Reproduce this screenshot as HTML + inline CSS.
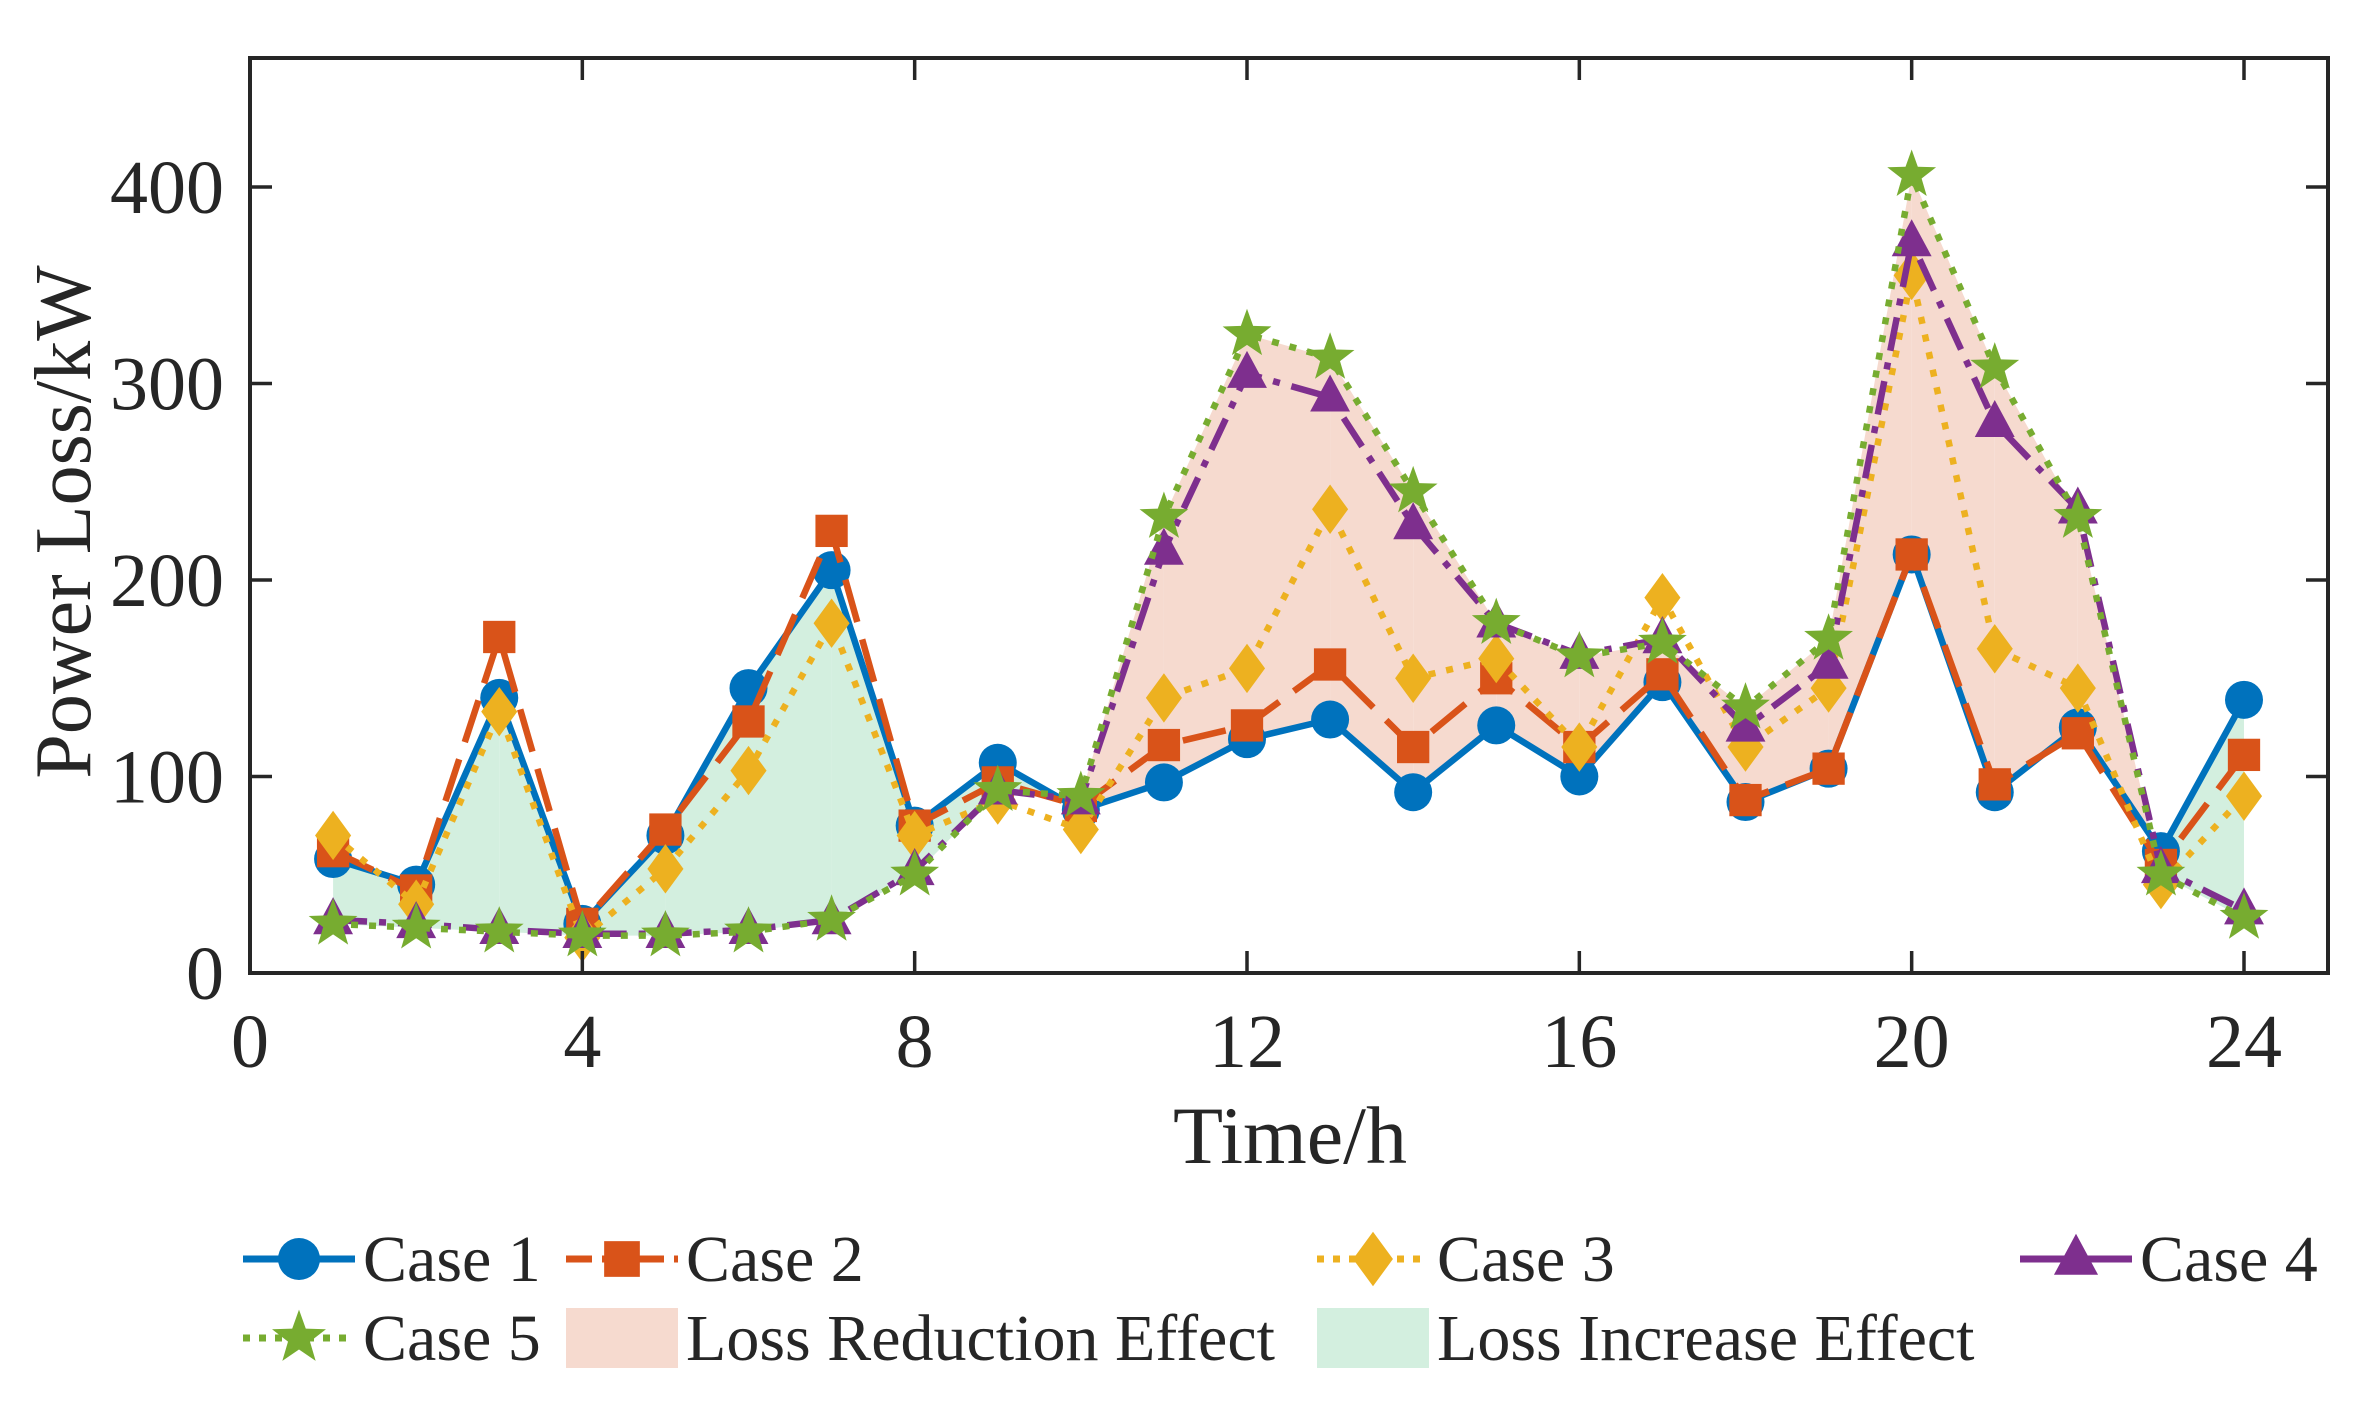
<!DOCTYPE html>
<html><head><meta charset="utf-8"><style>
html,body{margin:0;padding:0;background:#fff;}
svg{display:block;font-family:"Liberation Serif",serif;}
</style></head><body>
<svg id="chart" width="2376" height="1402" viewBox="0 0 2376 1402" xmlns="http://www.w3.org/2000/svg"></svg>
<script>
const hours=[1,2,3,4,5,6,7,8,9,10,11,12,13,14,15,16,17,18,19,20,21,22,23,24];
const case1=[58,45,140,25,70,145,205,75,107,83,97,119,129,92,126,100,148,87,104,213,92,125,62,139];
const case2=[62,42,171,25,73,128,225,75,97,85,116,126,157,115,150,115,152,88,104,213,96,122,55,111];
const case3=[70,35,133,18,53,103,178,70,88,73,140,155,236,150,160,115,191,115,145,355,165,145,45,90];
const case4=[27,25,22,20,20,22,27,52,93,88,215,305,293,228,178,162,170,125,157,372,280,236,53,32];
const case5=[25,23,21,19,19,21,27,50,93,90,232,325,313,245,178,161,168,135,170,406,308,232,50,28];
const xTicks=[0,4,8,12,16,20,24];
const yTicks=[0,100,200,300,400];

const L=250,R=2328,T=58,B=973,X24=2244,Y400=187;
const X=v=>L+(v/24)*(X24-L);
const Y=v=>B-(v/400)*(B-Y400);
const NS="http://www.w3.org/2000/svg";
const svg=document.getElementById('chart');
function mk(tag,attrs,parent){const e=document.createElementNS(NS,tag);for(const k in attrs)e.setAttribute(k,attrs[k]);(parent||svg).appendChild(e);return e;}

const fills=mk('g',{});


for(let i=0;i<hours.length-1;i++){
  const d0=case1[i]-case5[i],d1=case1[i+1]-case5[i+1];
  const segs=[];
  if(d0*d1<0){const t=d0/(d0-d1);const xc=hours[i]+t;const yc=case1[i]+t*(case1[i+1]-case1[i]);
    segs.push([[hours[i],case1[i]],[xc,yc],[hours[i],case5[i]],d0]);
    segs.push([[xc,yc],[hours[i+1],case1[i+1]],[hours[i+1],case5[i+1]],d1]);
  } else segs.push([[hours[i],case1[i]],[hours[i+1],case1[i+1]],[hours[i+1],case5[i+1]],[hours[i],case5[i]],d0+d1]);
  segs.forEach(s=>{const sign=s.pop();const p=mk('polygon',{points:s.map(q=>X(q[0])+','+Y(q[1])).join(' '),fill:sign>0?'#d3efdf':'#f6dacf',stroke:'none'},fills);
    
    });
}

function marker(type,x,y,c,g,s){
  s=s||19;let e;
  if(type==='circle')e=mk('circle',{cx:x,cy:y,r:s,fill:c},g);
  else if(type==='square')e=mk('rect',{x:x-s*0.85,y:y-s*0.85,width:s*1.7,height:s*1.7,fill:c},g);
  else if(type==='diamond')e=mk('polygon',{points:`${x},${y-s*1.3} ${x+s*0.95},${y} ${x},${y+s*1.3} ${x-s*0.95},${y}`,fill:c},g);
  else if(type==='tri')e=mk('polygon',{points:`${x},${y-s*1.2} ${x+s*1.05},${y+s*0.75} ${x-s*1.05},${y+s*0.75}`,fill:c},g);
  else {let pts=[];for(let k=0;k<10;k++){const r=k%2?s*0.55:s*1.35;const a=-Math.PI/2+k*Math.PI/5;pts.push((x+r*Math.cos(a))+','+(y+r*Math.sin(a)));}e=mk('polygon',{points:pts.join(' '),fill:c},g);}
  return e;
}
const series=[
 {name:'case-1',data:case1,c:'#0072BD',dash:'',ld:'',m:'circle'},
 {name:'case-2',data:case2,c:'#D95319',dash:'44 18',ld:'26 10',m:'square'},
 {name:'case-3',data:case3,c:'#EDB120',dash:'7 11',ld:'7 9',m:'diamond'},
 {name:'case-4',data:case4,c:'#7E2F8E',dash:'34 12 7 12',ld:'',m:'tri'},
 {name:'case-5',data:case5,c:'#77AC30',dash:'7 11',ld:'7 9',m:'star'}];
series.forEach(s=>{
  const g=mk('g',{});
  const l=mk('polyline',{points:s.data.map((v,i)=>X(hours[i])+','+Y(v)).join(' '),fill:'none',stroke:s.c,'stroke-width':6.5,'stroke-dasharray':s.dash,'stroke-linejoin':'round'},g);
  
  s.data.forEach((v,i)=>{const e=marker(s.m,X(hours[i]),Y(v),s.c,g);
    });
});

const box=mk('rect',{x:L,y:T,width:R-L,height:B-T,fill:'none',stroke:'#262626','stroke-width':4});

xTicks.forEach(v=>{
  mk('line',{x1:X(v),x2:X(v),y1:B,y2:B-22,stroke:'#262626','stroke-width':3.5});
  mk('line',{x1:X(v),x2:X(v),y1:T,y2:T+22,stroke:'#262626','stroke-width':3.5});
  const t=mk('text',{x:X(v),y:1067,'text-anchor':'middle','font-size':76,fill:'#262626'});t.textContent=v;
  
});
yTicks.forEach(v=>{
  mk('line',{x1:L,x2:L+22,y1:Y(v),y2:Y(v),stroke:'#262626','stroke-width':3.5});
  mk('line',{x1:R,x2:R-22,y1:Y(v),y2:Y(v),stroke:'#262626','stroke-width':3.5});
  const t=mk('text',{x:224,y:Y(v)+26,'text-anchor':'end','font-size':76,fill:'#262626'});t.textContent=v;
  
});
let t=mk('text',{x:1290,y:1163,'text-anchor':'middle','font-size':82,fill:'#262626'});t.textContent='Time/h';

t=mk('text',{x:0,y:0,'text-anchor':'middle','font-size':80,fill:'#262626',transform:'translate(90,522) rotate(-90)'});t.textContent='Power Loss/kW';


const leg=[
 {s:0,x:243,y:1259,label:'Case 1'},{s:1,x:566,y:1259,label:'Case 2'},{s:2,x:1317,y:1259,label:'Case 3'},{s:3,x:2020,y:1259,label:'Case 4'},
 {s:4,x:243,y:1338,label:'Case 5'},{p:'#f6dacf',x:566,y:1338,label:'Loss Reduction Effect'},{p:'#d3efdf',x:1317,y:1338,label:'Loss Increase Effect'}];
leg.forEach(e=>{
  const g=mk('g',{});
  if(e.p){mk('rect',{x:e.x,y:e.y-30,width:112,height:60,fill:e.p},g);}
  else{const s=series[e.s];
    mk('line',{x1:e.x,x2:e.x+112,y1:e.y,y2:e.y,stroke:s.c,'stroke-width':7,'stroke-dasharray':s.ld},g);
    marker(s.m,e.x+56,e.y,s.c,g,21);}
  const tx=mk('text',{x:e.x+120,y:e.y+22,'font-size':66,fill:'#262626'},g);tx.textContent=e.label;
});
</script>
</body></html>
